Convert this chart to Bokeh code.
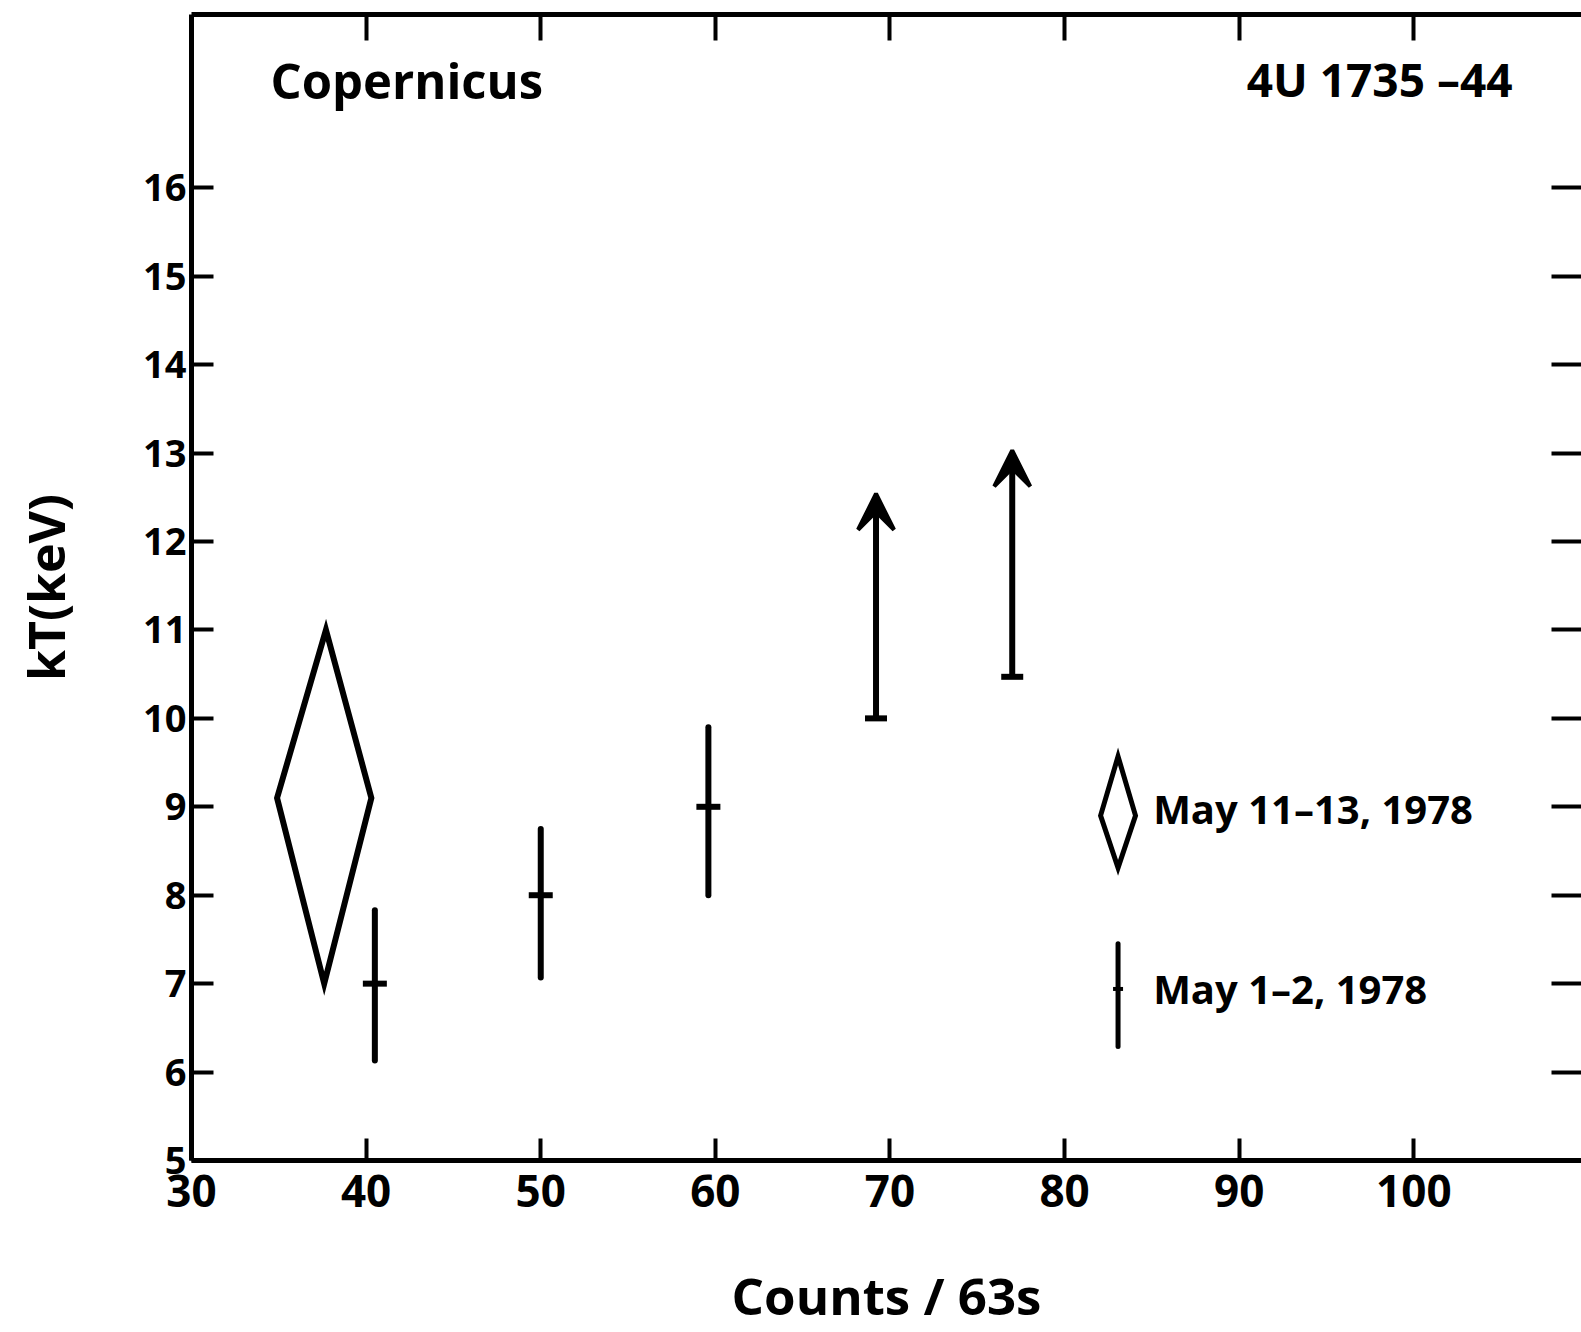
from bokeh.plotting import figure
from bokeh.models import (LinearAxis, FixedTicker, Range1d, Label, Arrow,
                          VeeHead, TeeHead, ColumnDataSource)
from bokeh.embed import file_html
from bokeh.resources import INLINE

# ---------------- data ----------------
x_tick_values = [30, 40, 50, 60, 70, 80, 90, 100]
top_tick_values = [40, 50, 60, 70, 80, 90, 100]
y_tick_values = [5, 6, 7, 8, 9, 10, 11, 12, 13, 14, 15, 16]
right_tick_values = [6, 7, 8, 9, 10, 11, 12, 13, 14, 15, 16]

# May 11-13, 1978: diamond (range in counts and kT)
diamond_counts = [37.7, 40.3, 37.6, 34.9]   # top, right, bottom, left vertex
diamond_kT = [11.0, 9.1, 7.0, 9.1]

# May 1-2, 1978: error bars
may12_counts = [40.5, 50.0, 59.6]
may12_kT = [7.0, 8.0, 9.0]
may12_kT_lo = [6.13, 7.07, 8.0]
may12_kT_hi = [7.83, 8.75, 9.9]

# lower limits (arrows)
limit_counts = [69.2, 77.0]
limit_kT_lo = [10.0, 10.47]
limit_kT_tip = [12.54, 13.03]

# texts
legend_labels = ["May 11\u201313, 1978", "May 1\u20132, 1978"]
x_label = "Counts / 63s"
y_label = "kT(keV)"
title_left = "Copernicus"
title_right = "4U 1735 \u201344"

FONT = "Open Sans"

p = figure(width=1581, height=1332,
           x_range=Range1d(30, 109.6), y_range=Range1d(5, 17.96),
           output_backend="svg", toolbar_location=None,
           min_border_left=191, min_border_right=0,
           min_border_top=14, min_border_bottom=172,
           x_axis_label=x_label, y_axis_label=y_label)
p.outline_line_color = None
p.grid.visible = False
p.background_fill_color = "white"
p.border_fill_color = "white"


def style_axis(ax, ticks, tick_in):
    ax.ticker = FixedTicker(ticks=ticks)
    ax.axis_line_width = 5
    ax.axis_line_color = "black"
    ax.major_tick_line_width = 4
    ax.major_tick_line_color = "black"
    ax.major_tick_in = tick_in
    ax.major_tick_out = 0
    ax.minor_tick_in = 0
    ax.minor_tick_out = 0
    ax.major_label_text_font = FONT
    ax.major_label_text_font_style = "bold"
    ax.major_label_text_color = "black"
    ax.axis_label_text_font = FONT
    ax.axis_label_text_font_style = "bold"
    ax.axis_label_text_color = "black"


xa = p.xaxis[0]
style_axis(xa, x_tick_values, 22)
xa.major_label_text_font_size = "44px"
xa.major_label_standoff = 14
xa.axis_label_text_font_size = "51px"
xa.axis_label_standoff = 50

ya = p.yaxis[0]
style_axis(ya, y_tick_values, 22)
ya.major_label_text_font_size = "38px"
ya.major_label_standoff = 5
ya.axis_label_text_font_size = "50px"
ya.axis_label_standoff = 60

top = LinearAxis()
style_axis(top, top_tick_values, 26)
top.major_label_text_color = None
top.major_label_text_font_size = "1px"
top.major_label_standoff = 0
p.add_layout(top, "above")

right = LinearAxis()
style_axis(right, right_tick_values, 30)
right.axis_line_color = None
right.major_label_text_color = None
right.major_label_text_font_size = "1px"
right.major_label_standoff = 0
p.add_layout(right, "right")

# diamond
p.patch(diamond_counts, diamond_kT, fill_color=None, line_color="black",
        line_width=6, line_join="miter")

# error bars
p.segment(x0=may12_counts, y0=may12_kT_lo, x1=may12_counts, y1=may12_kT_hi,
          line_color="black", line_width=6, line_cap="round")
p.scatter(may12_counts, may12_kT, marker="dash", size=24, line_width=6,
          line_color="black")

# lower-limit arrows
arr_src = ColumnDataSource(dict(x0=limit_counts, y0=limit_kT_lo,
                                x1=limit_counts, y1=limit_kT_tip))
p.add_layout(Arrow(x_start="x0", y_start="y0", x_end="x1", y_end="y1",
                   source=arr_src, line_width=6, line_color="black",
                   start=TeeHead(size=22, line_width=6, line_color="black"),
                   end=VeeHead(size=36, fill_color="black", line_color="black",
                               line_width=4)))

# legend (hand-drawn style)
leg_x = 83.06
leg_half_w = 1.0
leg_dia_top, leg_dia_mid, leg_dia_bot = 9.57, 8.9, 8.31
p.patch([leg_x, leg_x + leg_half_w, leg_x, leg_x - leg_half_w],
        [leg_dia_top, leg_dia_mid, leg_dia_bot, leg_dia_mid],
        fill_color=None, line_color="black", line_width=5, line_join="miter")
leg_bar_lo, leg_bar_mid, leg_bar_hi = 6.29, 6.94, 7.45
p.segment(x0=[leg_x], y0=[leg_bar_lo], x1=[leg_x], y1=[leg_bar_hi],
          line_color="black", line_width=5, line_cap="round")
p.scatter([leg_x], [leg_bar_mid], marker="dash", size=10, line_width=4,
          line_color="black")

leg_text_x = 85.07
for lbl, ty in zip(legend_labels, [8.98, 6.94]):
    p.add_layout(Label(x=leg_text_x, y=ty, text=lbl, text_font=FONT,
                       text_font_style="bold", text_font_size="40px",
                       text_baseline="middle", text_align="left",
                       text_color="black"))

p.add_layout(Label(x=34.52, y=17.22, text=title_left, text_font=FONT,
                   text_font_style="bold", text_font_size="49px",
                   text_baseline="alphabetic", text_align="left",
                   text_color="black"))
p.add_layout(Label(x=105.65, y=17.23, text=title_right, text_font=FONT,
                   text_font_style="bold", text_font_size="46px",
                   text_baseline="alphabetic", text_align="right",
                   text_color="black"))

open("out.html", "w").write(file_html(p, INLINE))
